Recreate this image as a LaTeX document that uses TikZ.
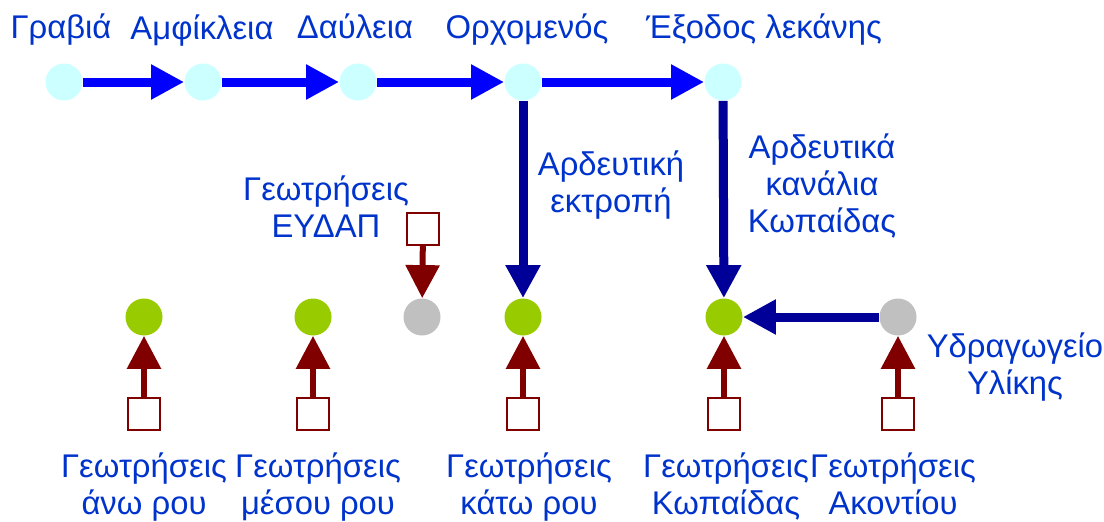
\documentclass[tikz,border=0pt]{standalone}
\usepackage{fontspec}
\setmainfont{Liberation Sans}
\usetikzlibrary{arrows.meta}
\definecolor{lake}{HTML}{CCFFFF}
\definecolor{field}{HTML}{99CC00}
\definecolor{source}{HTML}{C0C0C0}
\definecolor{riverblue}{HTML}{0000FF}
\definecolor{canalblue}{HTML}{000099}
\definecolor{wellred}{HTML}{800000}
\definecolor{lbltext}{HTML}{0033CC}
\tikzset{site/.style={circle,inner sep=0pt,minimum size=18.5pt},
  well/.style={draw=wellred,fill=white,line width=0.6pt,inner sep=0pt,minimum size=16pt},
  lbl/.style={text=lbltext,align=center,anchor=base,font=\fontsize{16.4}{18.5}\selectfont},
  flow/.style={line width=4.5pt,-{Triangle[length=16.5pt,width=16.5pt]}},
  pump/.style={wellred,line width=3pt,-{Triangle[length=16.5pt,width=16.5pt]}}}

\begin{document}
\begin{tikzpicture}[x=0.5pt,y=-0.5pt]
\useasboundingbox (0,0) rectangle (1104,521);
% river stations
\node[site,fill=lake] (grav) at (64,82) {};
\node[site,fill=lake] (amf) at (203,82) {};
\node[site,fill=lake] (daul) at (358,82) {};
\node[site,fill=lake] (orch) at (523,82) {};
\node[site,fill=lake] (exod) at (723,82) {};
% fields and sources
\node[site,fill=field] (ano) at (144,317) {};
\node[site,fill=field] (meso) at (313,317) {};
\node[site,fill=source] (eydap) at (422,317) {};
\node[site,fill=field] (kato) at (523,317) {};
\node[site,fill=field] (kop) at (724,317) {};
\node[site,fill=source] (ylik) at (898,317) {};
% wells
\node[well] (wano) at (144,414) {};
\node[well] (wmeso) at (313,414) {};
\node[well] (wkato) at (523,414) {};
\node[well] (wkop) at (724,414) {};
\node[well] (wakon) at (898,414) {};
\node[well] (weydap) at (423,229) {};

\draw[flow,riverblue] (grav) -- (amf);
\draw[flow,riverblue] (amf) -- (daul);
\draw[flow,riverblue] (daul) -- (orch);
\draw[flow,riverblue] (orch) -- (exod);
\draw[flow,canalblue] (orch) -- (kato);
\draw[flow,canalblue] (exod) -- (kop);
\draw[flow,canalblue] (ylik) -- (kop);
\draw[pump] (wano) -- (ano);
\draw[pump] (wmeso) -- (meso);
\draw[pump] (wkato) -- (kato);
\draw[pump] (wkop) -- (kop);
\draw[pump] (wakon) -- (ylik);
\draw[pump] (weydap) -- (eydap);

% labels
\node[lbl] (lgrav) at (61,38) {Γραβιά};
\node[lbl] (lamf) at (202,39) {Αμφίκλεια};
\node[lbl] (ldaul) at (355,38) {Δαύλεια};
\node[lbl] (lorch) at (527,38) {Ορχομενός};
\node[lbl] (lexod) at (764,38) {Έξοδος λεκάνης};
\node[lbl] (lektr) at (611,212) {Αρδευτική\\εκτροπή};
\node[lbl] (lkan) at (822,232) {Αρδευτικά\\κανάλια\\Κωπαίδας};
\node[lbl] (leydap) at (326,237) {Γεωτρήσεις\\ΕΥΔΑΠ};
\node[lbl] (lylik) at (1015,394) {Υδραγωγείο\\Υλίκης};
\node[lbl] (lano) at (144,514) {Γεωτρήσεις\\άνω ρου};
\node[lbl] (lmeso) at (318,514) {Γεωτρήσεις\\μέσου ρου};
\node[lbl] (lkato) at (529,514) {Γεωτρήσεις\\κάτω ρου};
\node[lbl] (lkop) at (726,514) {Γεωτρήσεις\\Κωπαίδας};
\node[lbl] (lakon) at (893,514) {Γεωτρήσεις\\Ακοντίου};
\end{tikzpicture}
\end{document}
